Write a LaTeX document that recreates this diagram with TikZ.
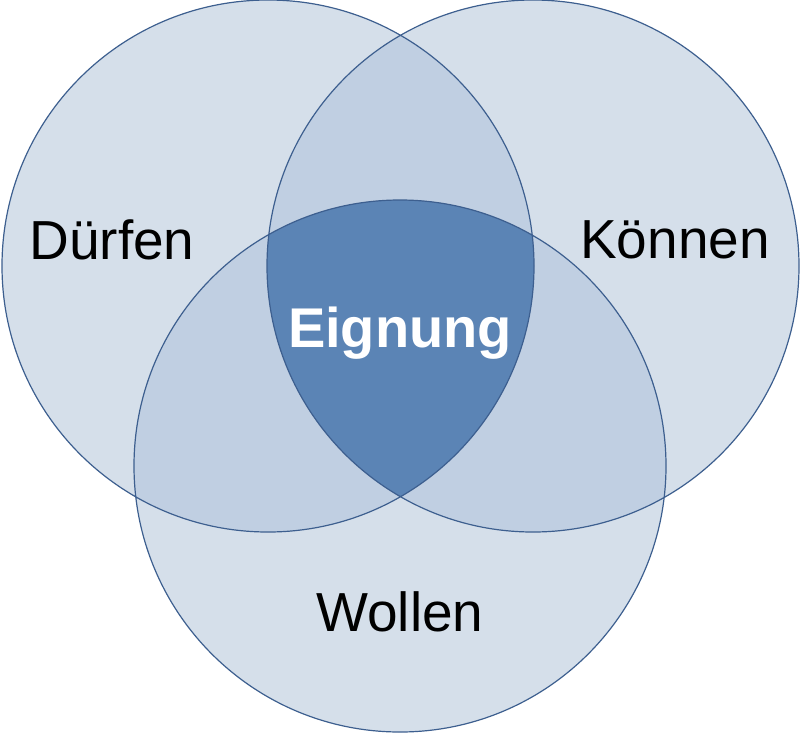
\documentclass[tikz,border=0pt]{standalone}
\usepackage{fontspec}
\setmainfont{Liberation Sans}
\usetikzlibrary{positioning}
\definecolor{ringfill}{HTML}{D5DFEA}
\definecolor{pairfill}{HTML}{C0CFE2}
\definecolor{corefill}{HTML}{5B84B5}
\definecolor{ringline}{HTML}{3D5F8F}

\begin{document}
\begin{tikzpicture}[
    x=1pt, y=-1pt,
    ring/.style={circle, minimum size=532pt, inner sep=0pt},
    label/.style={font=\fontsize{55}{60}\selectfont, text=black},
    core/.style={label, font=\fontsize{56}{60}\selectfont\bfseries, text=white}
]
    \useasboundingbox (0,0) rectangle (800,734);
    % === CIRCLES ===
    \node[ring] (duerfen) at (268,266) {};
    \node[ring] (koennen) at (533,266) {};
    \node[ring] (wollen) at (400,466) {};
    \fill[ringfill] (duerfen.center) circle (266) (koennen.center) circle (266) (wollen.center) circle (266);
    
    % === OVERLAPS ===
    \begin{scope}
        \clip (duerfen.center) circle (266);
        \fill[pairfill] (koennen.center) circle (266);
        \fill[pairfill] (wollen.center) circle (266);
    \end{scope}
    \begin{scope}
        \clip (koennen.center) circle (266);
        \fill[pairfill] (wollen.center) circle (266);
    \end{scope}
    \begin{scope}
        \clip (duerfen.center) circle (266);
        \clip (koennen.center) circle (266);
        \fill[corefill] (wollen.center) circle (266);
    \end{scope}
    
    % === OUTLINES ===
    \draw[ringline, line width=1.2pt] (duerfen.center) circle (266)
        (koennen.center) circle (266) (wollen.center) circle (266);
    
    % === LABELS ===
    \node[label] (tduerfen) at (112,240) {Dürfen};
    \node[label] (tkoennen) at (675,240) {Können};
    \node[label] (twollen) at (400,612) {Wollen};
    \node[core] (eignung) at (400,333) {Eignung};
\end{tikzpicture}
\end{document}
